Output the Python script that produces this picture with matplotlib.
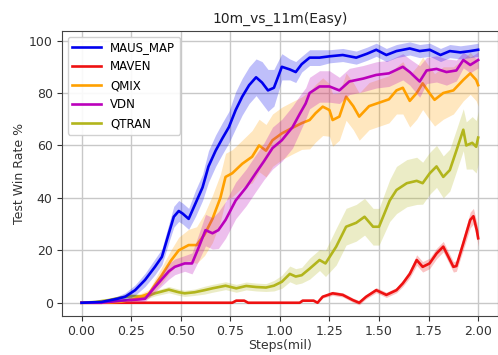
import numpy as np
import matplotlib
matplotlib.use("Agg")
import matplotlib.pyplot as plt

# values (x in million steps, y in win rate %)
maus_x = [0, 0.1, 0.18, 0.22, 0.27, 0.32, 0.37, 0.405, 0.44, 0.465,
          0.49, 0.51, 0.54, 0.575, 0.61, 0.64, 0.676, 0.71, 0.743, 0.777,
          0.81, 0.845, 0.88, 0.91, 0.94, 0.97, 1.01, 1.05, 1.08, 1.11,
          1.15, 1.2, 1.25, 1.317, 1.385, 1.44, 1.486, 1.537, 1.588, 1.655,
          1.705, 1.756, 1.81, 1.857, 1.91, 1.96, 2.0]
maus_y = [0, 0.3, 1.5, 2.3, 4.8, 8.7, 13.7, 17.5, 26.5, 32.8,
          35, 34, 32, 38, 44, 52, 58, 62.7, 67, 73.5,
          78.6, 83, 86, 84, 81, 82, 90, 89, 88, 91,
          93.5, 93.5, 94, 94.5, 93.5, 95, 96.5, 94.5, 96, 97,
          96, 96.5, 94.5, 96, 95.5, 96, 96.5]
maus_err = [0, 0.3, 1, 1.5, 2, 2.5, 3, 3, 3.5, 4,
            4, 4, 4, 5, 5, 6, 6, 6, 6, 7,
            7, 7, 7, 8, 8, 7, 5, 4, 4, 3,
            3, 3, 2.5, 2.5, 2.5, 2.5, 2.5, 2.5, 2.5, 2.5,
            2.5, 2.5, 2.5, 2.5, 2.5, 2.5, 2.5]

maven_x = [0, 0.76, 0.78, 0.82, 0.84, 1.10, 1.115, 1.17, 1.19, 1.216,
           1.266, 1.317, 1.368, 1.40, 1.435, 1.486, 1.537, 1.588, 1.62, 1.655,
           1.69, 1.72, 1.755, 1.79, 1.824, 1.84, 1.875, 1.89, 1.925, 1.96,
           1.976, 1.993, 2.0]
maven_y = [0, 0, 0.8, 0.8, 0, 0, 0.8, 0.8, 0, 2.3,
           3.6, 3, 1, 0, 2.3, 4.8, 3, 4.8, 7.4, 11,
           16.3, 13.7, 15, 18.8, 21.4, 19, 13.7, 14, 22.7, 31.6,
           33, 27.7, 24.6]
maven_err = [0, 0, 0.3, 0.3, 0, 0, 0.3, 0.3, 0, 0.5,
             0.8, 0.8, 0.8, 0.8, 0.8, 1, 1, 1, 1.2, 1.5,
             2, 2, 2, 2, 2, 2, 2, 2, 2.5, 3,
             3, 3, 3]

qmix_x = [0, 0.1, 0.2, 0.27, 0.34, 0.40, 0.45, 0.49, 0.54, 0.58,
          0.62, 0.66, 0.70, 0.726, 0.76, 0.81, 0.86, 0.895, 0.93, 0.963,
          1.01, 1.06, 1.11, 1.15, 1.18, 1.216, 1.25, 1.266, 1.3, 1.334,
          1.37, 1.4, 1.45, 1.5, 1.55, 1.588, 1.62, 1.655, 1.69, 1.72,
          1.756, 1.78, 1.824, 1.875, 1.925, 1.96, 1.99, 2.0]
qmix_y = [0, 0, 0.4, 1.5, 3.5, 10, 16, 20, 22, 22,
          26, 32, 40, 48, 49.4, 53, 55.7, 60, 58, 62,
          64.6, 66.6, 68.5, 69.7, 72.3, 74.8, 73.5, 69.7, 71, 78.6,
          75, 71, 75, 76.3, 77.6, 81, 82, 77, 80, 83.7,
          79.8, 77.4, 80, 81, 85, 87.5, 85, 83]
qmix_err = [0, 0, 0.3, 1, 1.5, 3, 4, 5, 6, 7,
            8, 9, 9, 9, 9, 9, 10, 10, 10, 10,
            10, 10, 10, 11, 11, 11, 10, 10, 9, 9,
            9, 9, 9, 9, 9, 9, 10, 10, 10, 10,
            10, 10, 10, 9, 8, 8, 8, 8]

vdn_x = [0, 0.1, 0.2, 0.28, 0.32, 0.37, 0.44, 0.47, 0.52, 0.557,
         0.59, 0.625, 0.66, 0.69, 0.726, 0.777, 0.83, 0.878, 0.92, 0.963,
         1.01, 1.064, 1.1, 1.13, 1.15, 1.2, 1.25, 1.3, 1.35, 1.42,
         1.486, 1.55, 1.62, 1.655, 1.705, 1.74, 1.79, 1.84, 1.89, 1.925,
         1.96, 2.0]
vdn_y = [0, 0, 0.8, 1.2, 1.5, 6, 12, 13.7, 15, 15,
         21, 27.7, 26.5, 27.7, 31.6, 39, 44, 49.4, 54, 59,
         62, 67, 72, 76, 80, 82.5, 82.5, 81, 84.4, 85.5,
         86.9, 87.5, 90, 88, 84.4, 88.6, 89.2, 88, 88.6, 92.6,
         90.7, 92.6]
vdn_err = [0, 0, 0.5, 1, 1, 2, 3, 3, 3, 4,
           5, 6, 6, 7, 7, 7, 7, 7, 7, 8,
           8, 8, 7, 6, 6, 6, 6, 5, 5, 5,
           5, 5, 5, 5, 6, 5, 5, 5, 4, 3,
           3, 3]

qtran_x = [0, 0.07, 0.135, 0.2, 0.25, 0.32, 0.37, 0.44, 0.49, 0.52,
           0.57, 0.62, 0.66, 0.726, 0.78, 0.83, 0.88, 0.93, 0.97, 1.01,
           1.05, 1.08, 1.11, 1.15, 1.2, 1.23, 1.284, 1.334, 1.385, 1.427,
           1.47, 1.5, 1.554, 1.588, 1.64, 1.69, 1.72, 1.756, 1.79, 1.824,
           1.857, 1.89, 1.925, 1.94, 1.97, 1.99, 2.0]
qtran_y = [0, 0.3, 1, 2, 2.5, 2.3, 3.6, 5, 4, 3.6,
           4, 4.8, 5.5, 6.5, 5.5, 6.4, 6, 5.8, 6.5, 8,
           11, 10, 10.5, 13, 16.3, 15, 21.4, 29, 30.5, 32.8,
           29, 29, 39, 43, 45.6, 46.5, 45.6, 49.4, 52, 48,
           50.6, 58, 66, 60, 61, 59.5, 63]
qtran_err = [0, 0.2, 0.5, 0.8, 1, 1, 1, 1.2, 1.2, 1.2,
             1.2, 1.5, 1.5, 1.5, 1.5, 1.5, 1.5, 1.5, 2, 2.5,
             3, 3, 3, 4, 4, 5, 7, 7, 7, 7,
             7, 7, 8, 9, 9, 9, 8, 8, 8, 8,
             8, 8, 8, 9, 10, 10, 10]

labels = ["MAUS_MAP", "MAVEN", "QMIX", "VDN", "QTRAN"]
colors = {"MAUS_MAP": "#0000ee", "MAVEN": "#ee1111", "QMIX": "#ffa000",
          "VDN": "#bb00bb", "QTRAN": "#b2b51c"}
series = {
    "MAUS_MAP": (maus_x, maus_y, maus_err),
    "MAVEN": (maven_x, maven_y, maven_err),
    "QMIX": (qmix_x, qmix_y, qmix_err),
    "VDN": (vdn_x, vdn_y, vdn_err),
    "QTRAN": (qtran_x, qtran_y, qtran_err),
}
draw_order = ["MAVEN", "QTRAN", "QMIX", "VDN", "MAUS_MAP"]

fig = plt.figure(figsize=(4.98, 3.55), dpi=100)
ax = fig.add_axes([0.124, 0.111, 0.876, 0.802])

handles = {}
for i, name in enumerate(draw_order):
    x, y, e = (np.array(a, dtype=float) for a in series[name])
    c = colors[name]
    ax.fill_between(x, y - e, y + e, color=c, alpha=0.25, linewidth=0, zorder=2 + i)
    handles[name], = ax.plot(x, y, color=c, linewidth=1.9, label=name, zorder=3 + i)

ax.set_xlim(-0.1, 2.1)
ax.set_ylim(-4.9, 103.7)
ax.set_xticks(np.arange(0, 2.01, 0.25))
ax.set_xticklabels([f"{v:.2f}" for v in np.arange(0, 2.01, 0.25)])
ax.set_yticks(np.arange(0, 101, 20))
ax.tick_params(labelsize=9, colors="#333333", pad=3)
ax.grid(True, color="#c8c8c8", linewidth=1)
ax.set_axisbelow(True)
for s in ax.spines.values():
    s.set_color("#444444")

ax.set_title("10m_vs_11m(Easy)", fontsize=10, color="#222222")
ax.set_xlabel("Steps(mil)", fontsize=9, color="#333333", labelpad=1)
ax.set_ylabel("Test Win Rate %", fontsize=9, color="#333333", labelpad=2)

ax.legend([handles[n] for n in labels], labels, loc="upper left", fontsize=8.5,
          handlelength=2.4, framealpha=0.9, borderaxespad=0.5)

fig.savefig("out.png", dpi=100)
